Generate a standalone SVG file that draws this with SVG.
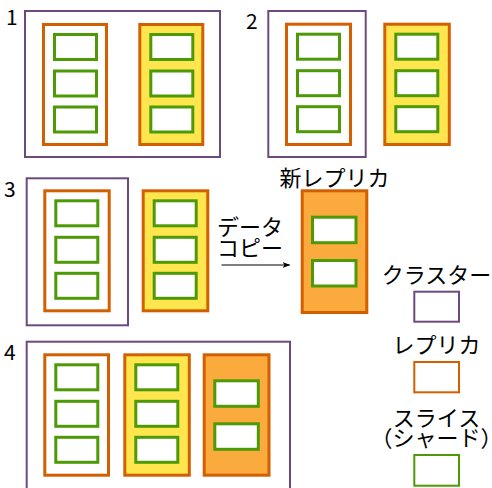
<svg xmlns="http://www.w3.org/2000/svg" width="492" height="488" viewBox="0 0 492 488">
  <style>
    .cluster { fill: #ffffff; stroke: #6d4a7e; stroke-width: 2; }
    .replica { fill: #ffffff; stroke: #d45f00; stroke-width: 3; }
    .replica.primary { fill: #ffe64f; }
    .replica.fresh { fill: #fbab3e; }
    .shard { fill: #ffffff; stroke: #4e9a06; stroke-width: 3; }
    .key { fill: #ffffff; stroke-width: 2; }
    text { font-family: "Noto Sans CJK JP", "Noto Sans", sans-serif; font-size: 22px; fill: #000000; }
    .num { font-size: 21px; }
    .mid { text-anchor: middle; }
    .flow { stroke: #000000; stroke-width: 1; fill: none; }
  </style>
  <defs>
    <marker id="arrow" markerWidth="8" markerHeight="6" refX="7" refY="3" orient="auto" markerUnits="userSpaceOnUse">
      <path d="M0,0 L8,3 L0,6 L2,3 Z" fill="#000000"/>
    </marker>
    <g id="replica3">
      <rect class="shard" x="11" y="10" width="42" height="25"/>
      <rect class="shard" x="11" y="46.5" width="42" height="25"/>
      <rect class="shard" x="11" y="82.5" width="42" height="25"/>
    </g>
  </defs>

  <!-- step 1: two replicas in one cluster -->
  <g id="step1">
    <text class="num" x="6" y="25">1</text>
    <rect class="cluster" x="25" y="11" width="195" height="146"/>
    <g id="s1-replica-a">
      <rect class="replica" x="43.5" y="24.5" width="63" height="120"/>
      <use href="#replica3" x="43.5" y="24.5"/>
    </g>
    <g id="s1-replica-b">
      <rect class="replica primary" x="139.8" y="24.5" width="63" height="120"/>
      <use href="#replica3" x="139.8" y="24.5"/>
    </g>
  </g>

  <!-- step 2: cluster shrinks to one replica -->
  <g id="step2">
    <text class="num" x="246" y="29">2</text>
    <rect class="cluster" x="268.3" y="11" width="97.4" height="146"/>
    <g id="s2-replica-a">
      <rect class="replica" x="286.5" y="24.2" width="64" height="120.3"/>
      <use href="#replica3" x="286.5" y="24.2"/>
    </g>
    <g id="s2-replica-b">
      <rect class="replica primary" x="384.8" y="24.2" width="64.5" height="120.3"/>
      <use href="#replica3" x="384.8" y="24.2"/>
    </g>
  </g>

  <!-- step 3: copy data to a new replica -->
  <g id="step3">
    <text class="num" x="4" y="196.5">3</text>
    <rect class="cluster" x="26.7" y="178.3" width="101.3" height="147"/>
    <g id="s3-replica-a">
      <rect class="replica" x="44.8" y="190.8" width="64.4" height="120"/>
      <use href="#replica3" x="44.8" y="190.8"/>
    </g>
    <g id="s3-replica-b">
      <rect class="replica primary" x="143.2" y="190.8" width="64.6" height="120"/>
      <use href="#replica3" x="143.2" y="190.8"/>
    </g>
    <g id="s3-replica-new">
      <text class="mid" x="334.5" y="186">新レプリカ</text>
      <rect class="replica fresh" x="302.2" y="190.8" width="64.6" height="121.7"/>
      <rect class="shard" x="312.5" y="217.2" width="43.5" height="25.5"/>
      <rect class="shard" x="312.5" y="260.5" width="43.5" height="25.5"/>
    </g>
  </g>

  <g id="connectors">
    <text x="217" y="235">データ</text>
    <text x="217" y="256">コピー</text>
    <line class="flow" x1="221.5" y1="265" x2="289.5" y2="265" marker-end="url(#arrow)"/>
  </g>

  <!-- step 4: three replicas in one cluster -->
  <g id="step4">
    <text class="num" x="4" y="360">4</text>
    <rect class="cluster" x="26.7" y="341.7" width="263.3" height="160"/>
    <g id="s4-replica-a">
      <rect class="replica" x="44.8" y="354.8" width="63.7" height="120.4"/>
      <use href="#replica3" x="44.8" y="354.8"/>
    </g>
    <g id="s4-replica-b">
      <rect class="replica primary" x="124.8" y="354.8" width="64.5" height="120.4"/>
      <use href="#replica3" x="124.8" y="354.8"/>
    </g>
    <g id="s4-replica-c">
      <rect class="replica fresh" x="204.2" y="354.8" width="64.8" height="120.4"/>
      <rect class="shard" x="214.8" y="380.8" width="43.5" height="25.5"/>
      <rect class="shard" x="214.8" y="423.8" width="43.5" height="25.5"/>
    </g>
  </g>

  <!-- key -->
  <g id="legend">
    <g id="key-cluster">
      <text class="mid" x="436.5" y="283">クラスター</text>
      <rect class="key" x="414.3" y="291.7" width="44.7" height="30" stroke="#6d4a7e"/>
    </g>
    <g id="key-replica">
      <text class="mid" x="436.5" y="353">レプリカ</text>
      <rect class="key" x="414.3" y="362" width="44.7" height="30.3" stroke="#d45f00"/>
    </g>
    <g id="key-shard">
      <text class="mid" x="436.5" y="426">スライス</text>
      <text class="mid" x="436.5" y="446">（シャード）</text>
      <rect class="key" x="414.3" y="455" width="44.7" height="30.7" stroke="#4e9a06"/>
    </g>
  </g>
</svg>
